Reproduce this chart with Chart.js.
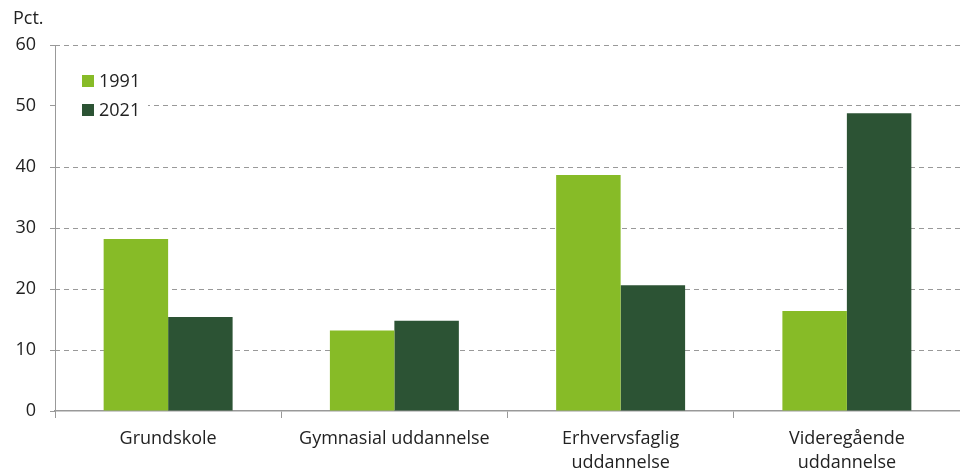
<!DOCTYPE html>
<html><head><meta charset="utf-8">
<script src="https://cdn.jsdelivr.net/npm/chart.js@4"></script>
<style>html,body{margin:0;padding:0;background:#fff}#wrap{width:960px;height:472px;position:relative}</style>
</head><body><div id="wrap"><canvas id="c" width="960" height="472"></canvas></div>
<script>
const categories = ['Grundskole', 'Gymnasial uddannelse', ['Erhvervsfaglig', 'uddannelse'], ['Videregående', 'uddannelse']];
const values1991 = [28.2, 13.2, 38.7, 16.4];
const values2021 = [15.4, 14.8, 20.6, 48.8];
const seriesLabels = ['1991', '2021'];
const yTicks = [0, 10, 20, 30, 40, 50, 60];
const FONT = "'Open Sans', sans-serif";
const colors = ['#87BB27', '#2C5334'];

const legendPlugin = {
  id: 'customLegend',
  afterDraw(chart) {
    const ctx = chart.ctx;
    const a = chart.chartArea;
    ctx.save();
    // legend background box (hides gridline behind legend)
    ctx.fillStyle = '#fff';
    ctx.fillRect(Math.round(a.left) + 1, 64, 148 - Math.round(a.left) - 1, 62);
    // solid y axis line
    ctx.strokeStyle = '#999';
    ctx.lineWidth = 1;
    ctx.setLineDash([]);
    ctx.beginPath();
    ctx.moveTo(Math.round(a.left) + 0.5, a.top);
    ctx.lineTo(Math.round(a.left) + 0.5, a.bottom + 7);
    ctx.stroke();
    ctx.font = '18px ' + FONT;
    ctx.textBaseline = 'middle';
    chart.data.datasets.forEach((ds, i) => {
      const y = 81 + i * 29;
      ctx.fillStyle = ds.backgroundColor;
      ctx.fillRect(82, y - 6, 12, 12);
      ctx.fillStyle = '#222';
      ctx.fillText(ds.label, 99, y + 1);
    });
    ctx.textBaseline = 'alphabetic';
    ctx.fillStyle = '#222';
    ctx.fillText('Pct.', 13, 24);
    ctx.restore();
  }
};

new Chart(document.getElementById('c'), {
  type: 'bar',
  data: {
    labels: categories,
    datasets: [
      { label: seriesLabels[0], data: values1991, backgroundColor: colors[0] },
      { label: seriesLabels[1], data: values2021, backgroundColor: colors[1] }
    ]
  },
  options: {
    responsive: false,
    animation: false,
    layout: { padding: { top: 45, right: 0, left: 0, bottom: 0 } },
    datasets: { bar: { categoryPercentage: 0.57, barPercentage: 1.0 } },
    plugins: { legend: { display: false }, tooltip: { enabled: false } },
    scales: {
      x: {
        offset: true,
        grid: { offset: true, drawOnChartArea: false, drawTicks: true, tickLength: 7, tickColor: '#999' },
        border: { color: '#999', width: 1.5, dash: [] },
        ticks: { color: '#222', font: { family: FONT, size: 18, lineHeight: 1.33 }, padding: 9, maxRotation: 0, autoSkip: false },
        afterFit(s) { s.height = 61; }
      },
      y: {
        min: 0, max: 60,
        afterBuildTicks(s) { s.ticks = yTicks.map(v => ({ value: v })); },
        grid: {
          color: (c) => (c.tick && c.tick.value === 0) ? 'rgba(0,0,0,0)' : '#999',
          lineWidth: 1, drawTicks: true, tickLength: 5, tickColor: '#999', tickBorderDash: []
        },
        border: { display: false, dash: [5, 4] },
        ticks: { color: '#222', font: { family: FONT, size: 18 }, padding: 14 },
        afterFit(s) { s.width = 55; }
      }
    }
  },
  plugins: [legendPlugin]
});
</script></body></html>
